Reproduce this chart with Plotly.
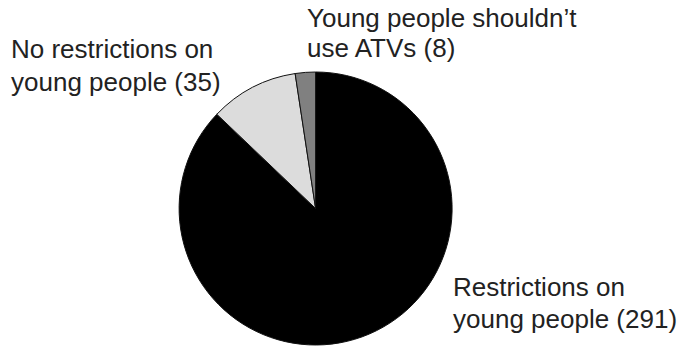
import plotly.graph_objects as go

# Survey answers about young people riding ATVs
categories = ["Restrictions on young people", "No restrictions on young people", "Young people shouldn\u2019t use ATVs"]
counts = [291, 35, 8]
slice_colors = ["#000000", "#dcdcdc", "#808080"]

W, H = 683, 347

fig = go.Figure(
    go.Pie(
        labels=categories,
        values=counts,
        sort=False,
        direction="clockwise",
        rotation=0,
        textinfo="none",
        hoverinfo="label+value",
        marker=dict(colors=slice_colors, line=dict(color="#111111", width=1)),
        domain=dict(x=[178.5 / W, 452.7 / W], y=[1 - 345 / H, 1 - 72 / H]),
        showlegend=False,
    )
)

# Outside labels, one annotation per text line: (text, left px, baseline px)
label_lines = [
    ("No restrictions on", 9, 58),
    ("young people ({})".format(counts[1]), 9, 91),
    ("Young people shouldn\u2019t", 305, 27),
    ("use ATVs ({})".format(counts[2]), 305, 57),
    ("Restrictions on", 451, 296),
    ("young people ({})".format(counts[0]), 451, 328),
]
FONT_SIZE = 26
for txt, px, base in label_lines:
    mid = base - 9  # baseline sits ~9px below the middle of the text box
    fig.add_annotation(
        text=txt,
        x=px / W,
        y=1 - mid / H,
        xref="paper",
        yref="paper",
        xanchor="left",
        yanchor="middle",
        align="left",
        showarrow=False,
        font=dict(family="Liberation Sans, Arial, sans-serif", size=FONT_SIZE, color="#222222"),
    )

fig.update_layout(
    width=W,
    height=H,
    margin=dict(l=0, r=0, t=0, b=0),
    paper_bgcolor="white",
    plot_bgcolor="white",
)

fig.write_html("out.html")
